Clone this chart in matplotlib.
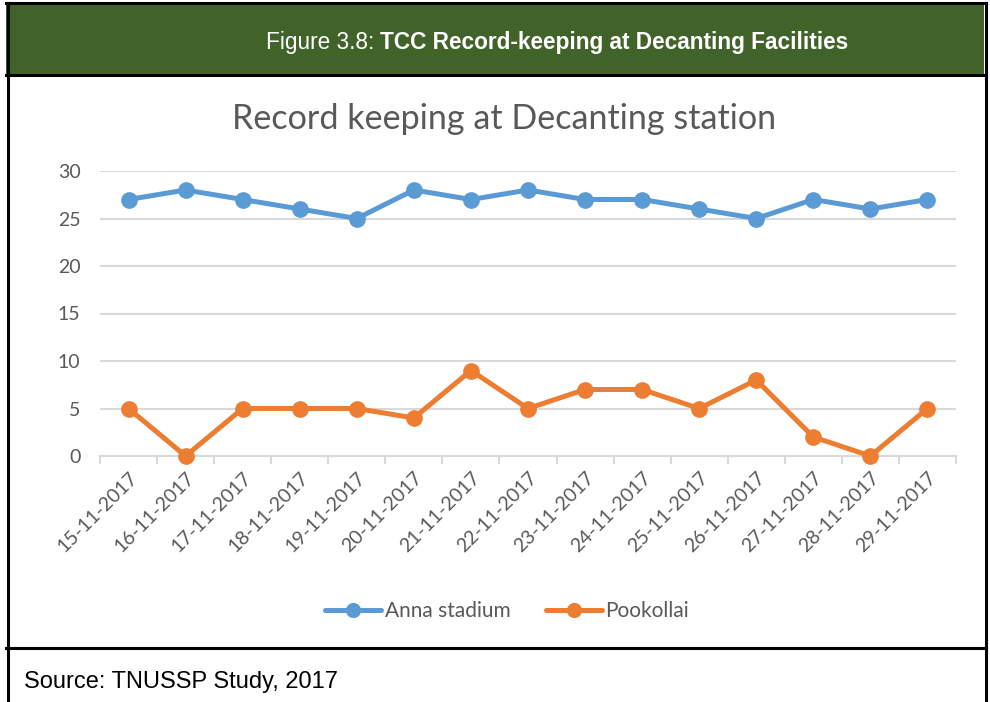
import matplotlib
matplotlib.use("Agg")
import matplotlib.pyplot as plt
from matplotlib.patches import Rectangle
from matplotlib.lines import Line2D

dates = ["15-11-2017", "16-11-2017", "17-11-2017", "18-11-2017", "19-11-2017",
         "20-11-2017", "21-11-2017", "22-11-2017", "23-11-2017", "24-11-2017",
         "25-11-2017", "26-11-2017", "27-11-2017", "28-11-2017", "29-11-2017"]
anna = [27, 28, 27, 26, 25, 28, 27, 28, 27, 27, 26, 25, 27, 26, 27]
pookollai = [5, 0, 5, 5, 5, 4, 9, 5, 7, 7, 5, 8, 2, 0, 5]
yticks = [0, 5, 10, 15, 20, 25, 30]

W, H = 990, 702
fig = plt.figure(figsize=(W / 100, H / 100), dpi=100)

def fx(px):
    return px / W

def fy(py):
    return 1 - py / H

# header and frame
fig.patches.append(Rectangle((fx(6), fy(75)), fx(984 - 6), (75 - 4) / H,
                             transform=fig.transFigure, facecolor="#41632a",
                             edgecolor="none", zorder=0))
for (x0, y0, x1, y1) in [(6, 3, 986, 3), (6, 75, 986, 75), (6, 648, 986, 648),
                         (8, 3, 8, 702), (986, 3, 986, 702)]:
    fig.add_artist(Line2D([fx(x0), fx(x1)], [fy(y0), fy(y1)], color="black", lw=2.2,
                          transform=fig.transFigure))

t1 = fig.text(fx(266), fy(42), "Figure 3.8: ", color="white", fontsize=16.3,
              family="Liberation Sans", ha="left", va="center")
fig.canvas.draw()
bb = t1.get_window_extent()
fig.text(bb.x1 / W, fy(42), "TCC Record-keeping at Decanting Facilities", color="white",
         fontsize=16.3, family="Liberation Sans", fontweight="bold", ha="left", va="center")
fig.text(fx(24), fy(682), "Source: TNUSSP Study, 2017", color="black", fontsize=17,
         family="Liberation Sans", ha="left", va="center")

fig.text(fx(504), fy(119), "Record keeping at Decanting station", color="#595959",
         fontsize=24.6, family="Lato", ha="center", va="center")

ax = fig.add_axes([fx(100), fy(456), fx(956 - 100), (456 - 171) / H])
x = list(range(len(dates)))
ax.plot(x, anna, color="#5b9bd5", lw=3.6, marker="o", ms=11, label="Anna stadium",
        solid_capstyle="round", zorder=3, clip_on=False)
ax.plot(x, pookollai, color="#ed7d31", lw=3.6, marker="o", ms=11, label="Pookollai",
        solid_capstyle="round", zorder=3, clip_on=False)
ax.set_xlim(-0.5, len(dates) - 0.5)
ax.set_ylim(0, 30)
ax.set_yticks(yticks)
ax.set_yticklabels([str(v) for v in yticks], family="Lato", fontsize=14, color="#595959")
ax.tick_params(axis="y", length=0, pad=14)
ax.grid(axis="y", color="#d9d9d9", lw=1.5, zorder=0)
ax.set_axisbelow(True)
for s in ["top", "right", "left"]:
    ax.spines[s].set_visible(False)
ax.spines["bottom"].set_color("#d9d9d9")
ax.spines["bottom"].set_linewidth(1.5)
ax.set_xticks([i - 0.5 for i in range(len(dates) + 1)])
ax.set_xticklabels([])
ax.tick_params(axis="x", length=6, width=1.5, color="#d9d9d9")
ax.set_xticks(x, minor=True)
ax.set_xticklabels(dates, minor=True, rotation=45, ha="right", va="top",
                   rotation_mode="anchor", family="Lato", fontsize=14, color="#595959")
ax.tick_params(axis="x", which="minor", length=0, pad=9)

leg = fig.legend(loc="center", bbox_to_anchor=(fx(507), fy(611)), ncol=2, frameon=False,
                 prop={"family": "Lato", "size": 15}, handlelength=2.7, columnspacing=1.7,
                 handletextpad=0.15, markerscale=0.9)
for t in leg.get_texts():
    t.set_color("#595959")

fig.savefig("out.png", dpi=100)
